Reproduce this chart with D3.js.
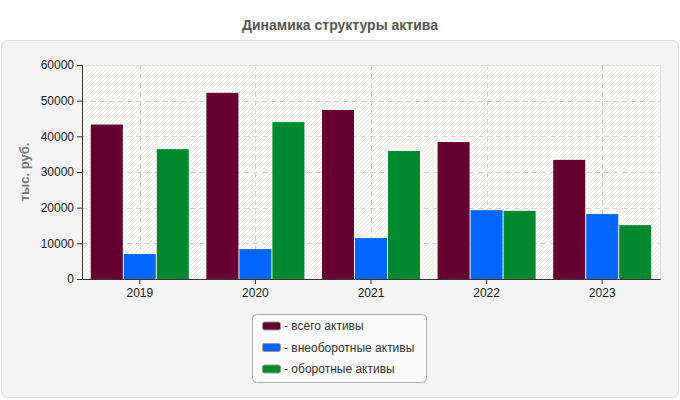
<!DOCTYPE html>
<html><head><meta charset="utf-8">
<script src="https://cdn.jsdelivr.net/npm/d3@7"></script>
<style>body{margin:0;background:#fff;}svg{display:block;font-family:Arial,"Liberation Sans",sans-serif;}</style>
</head><body>
<svg id="c" width="680" height="400"></svg>
<script>
const categories = ["2019","2020","2021","2022","2023"];
const seriesNames = ["- всего активы","- внеоборотные активы","- оборотные активы"];
const seriesColors = ["#660033","#0066ff","#00882f"];
const totalAssets = [43300, 52200, 47400, 38400, 33400];
const nonCurrent = [7000, 8400, 11500, 19300, 18200];
const current = [36400, 44000, 35900, 19100, 15100];
const yTicks = [0,10000,20000,30000,40000,50000,60000];
const series = [totalAssets, nonCurrent, current];

const svg = d3.select("#c");
const L=82, R=660, T=65, B=279;

// panel
svg.append("rect").attr("x",1.5).attr("y",40.5).attr("width",677).attr("height",357)
  .attr("rx",6).attr("fill","#f4f4f4").attr("stroke","#dedede");

svg.append("text").attr("x",340).attr("y",30).attr("text-anchor","middle")
  .attr("font-size",14).attr("font-weight","bold").attr("fill","#555")
  .text("Динамика структуры актива");

const defs = svg.append("defs");
const pat = defs.append("pattern").attr("id","hatch").attr("patternUnits","userSpaceOnUse")
  .attr("width",4).attr("height",4);
pat.append("rect").attr("width",4).attr("height",4).attr("fill","#fcfcf6");
pat.append("path").attr("d","M-1,1 l2,-2 M0,4 l4,-4 M3,5 l2,-2").attr("stroke","#e8e8e8").attr("stroke-width",0.8);

const x = d3.scaleBand().domain(categories).range([L,R]);
const y = d3.scaleLinear().domain([0,60000]).range([B,T]);

svg.append("rect").attr("x",L).attr("y",T).attr("width",R-L).attr("height",B-T).attr("fill","url(#hatch)");
svg.append("line").attr("x1",L).attr("x2",R).attr("y1",T+0.5).attr("y2",T+0.5).attr("stroke","#e2e2e2");
svg.append("line").attr("x1",R+0.5).attr("x2",R+0.5).attr("y1",T).attr("y2",B).attr("stroke","#e2e2e2");

// grid
const g = svg.append("g");
yTicks.slice(1,-1).forEach(t=>{
  g.append("line").attr("x1",L).attr("x2",R).attr("y1",Math.round(y(t))+0.5).attr("y2",Math.round(y(t))+0.5)
   .attr("stroke","#d8d8d8").attr("stroke-dasharray","5,4");
});
categories.forEach(c=>{
  const cx = Math.round(x(c)+x.bandwidth()/2)+0.5;
  g.append("line").attr("x1",cx).attr("x2",cx).attr("y1",T).attr("y2",B)
   .attr("stroke","#d8d8d8").attr("stroke-dasharray","5,4");
});

// bars
const inner = d3.scaleBand().domain([0,1,2]).range([0,98]).paddingInner(0.03);
const off = (x.bandwidth()-98)/2;
series.forEach((vals,si)=>{
  svg.append("g").selectAll("rect").data(vals).join("rect")
    .attr("x",(d,i)=>x(categories[i])+off+inner(si))
    .attr("y",d=>y(d)).attr("width",inner.bandwidth()).attr("height",d=>B-y(d))
    .attr("fill",seriesColors[si]);
});

// axes
const ya = svg.append("g").attr("transform",`translate(${L},0)`)
  .call(d3.axisLeft(y).tickValues(yTicks).tickSize(5).tickFormat(d=>String(d)));
const xa = svg.append("g").attr("transform",`translate(0,${B})`)
  .call(d3.axisBottom(x).tickSize(5).tickSizeOuter(0));
[ya,xa].forEach(a=>{
  a.selectAll("path,line").attr("stroke","#333");
  a.selectAll("text").attr("font-size",12).attr("fill","#222").attr("font-family","Arial,'Liberation Sans',sans-serif");
});
xa.selectAll("text").attr("dy","0.8em");
ya.select(".domain").attr("d",`M-5,${T+0.5}H0.5V${B+0.5}`);

svg.append("text").attr("transform",`translate(29,${(T+B)/2}) rotate(-90)`)
  .attr("text-anchor","middle").attr("font-size",13).attr("font-weight","bold").attr("fill","#777")
  .text("тыс. руб.");

// legend
const lg = svg.append("g");
lg.append("rect").attr("x",252.5).attr("y",314.5).attr("width",174).attr("height",68).attr("rx",4)
  .attr("fill","#fafafa").attr("stroke","#aaa");
seriesNames.forEach((n,i)=>{
  const yy = 326 + i*21.5;
  lg.append("rect").attr("x",262.5).attr("y",yy-4).attr("width",18).attr("height",8).attr("rx",2)
    .attr("fill",seriesColors[i]).attr("stroke","#999");
  lg.append("text").attr("x",284).attr("y",yy+4).attr("font-size",12).attr("fill","#333").text(n);
});
</script>
</body></html>
